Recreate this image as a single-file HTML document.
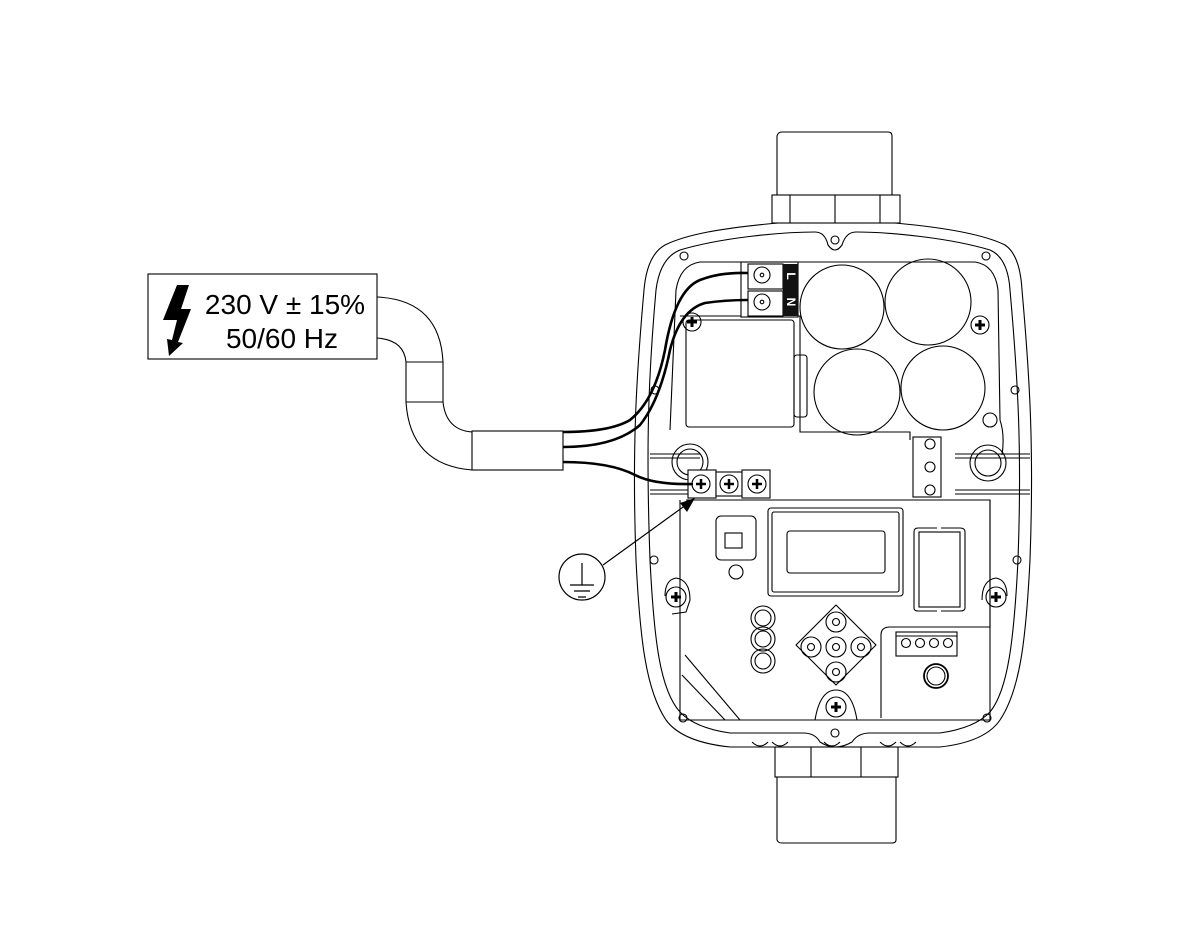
<!DOCTYPE html>
<html><head><meta charset="utf-8"><style>
html,body{margin:0;padding:0;background:#fff;}
svg{display:block;}
</style></head><body>
<svg width="1200" height="950" viewBox="0 0 1200 950" xmlns="http://www.w3.org/2000/svg" font-family="Liberation Sans, sans-serif">
<rect width="1200" height="950" fill="#fff"/>
<g fill="none" stroke="#000" stroke-width="1.1">
<rect x="148" y="274" width="229" height="85" fill="#fff"/>
<path d="M377 297 Q440 300 443 362 L443 402 Q446 430 472 432"/>
<path d="M377 338 Q404 340 406 362 L406 402 Q410 465 472 470"/>
<line x1="406" y1="362" x2="443" y2="362"/>
<line x1="406" y1="402" x2="443" y2="402"/>
<rect x="472" y="431" width="91" height="39"/>

<path d="M777 195 L777 136 Q778 132 782 132 L888 132 Q892 132 892 136 L892 195"/>
<rect x="772" y="195" width="128" height="28"/>
<line x1="790" y1="195" x2="790" y2="223"/><line x1="835" y1="195" x2="835" y2="223"/><line x1="880" y1="195" x2="880" y2="223"/>
<rect x="775" y="747" width="123" height="30"/>
<line x1="811" y1="747" x2="811" y2="777"/><line x1="861" y1="747" x2="861" y2="777"/>
<path d="M777 777 L777 840 Q778 843 782 843 L892 843 Q896 843 896 840 L896 777"/>
<path d="M752 742 q8 8 16 0 M772 742 q8 8 16 0 M824 742 q8 8 16 0 M880 742 q8 8 16 0 M900 742 q8 8 16 0"/>

<path d="M778 223 L895 223 C950 228 985 235 1005 245 Q1020 255 1022 290 C1030 380 1034 450 1030 560 C1026 640 1020 690 1000 720 Q985 742 940 747 L730 747 Q682 742 666 720 C646 690 640 640 636 560 C632 450 636 380 644 290 Q647 255 665 245 C685 235 720 228 778 223 Z"/>
<path d="M680 250 C720 238 780 232 815 232 Q825 232 828 245 Q835 255 842 245 Q846 232 856 232 C890 232 950 238 990 250 Q1008 258 1010 290 C1018 380 1022 450 1018 560 C1014 640 1008 690 990 712 Q975 728 940 733 L870 733 Q858 733 852 742 Q835 752 820 742 Q815 733 803 733 L730 733 Q695 728 680 712 C660 690 654 640 650 560 C646 450 648 380 656 290 Q660 258 680 250 Z"/>
<path d="M700 262 L975 262 Q995 265 998 290 L1000 420 Q1005 435 1002 455 M700 262 Q680 265 676 290 L670 430 M680 500 L680 720 L990 720 L990 500"/>
<g>
<circle cx="684" cy="256" r="4"/><circle cx="835" cy="240" r="4"/><circle cx="986" cy="256" r="4"/>
<circle cx="655" cy="390" r="4"/><circle cx="1015" cy="390" r="4"/>
<circle cx="654" cy="560" r="4"/><circle cx="1017" cy="560" r="4"/>
<circle cx="683" cy="718" r="4"/><circle cx="835" cy="733" r="4"/><circle cx="987" cy="718" r="4"/>
<circle cx="990" cy="420" r="7"/>
</g>
<circle cx="842" cy="307" r="42"/><circle cx="928" cy="302" r="43"/>
<circle cx="857" cy="392" r="43"/><circle cx="943" cy="388" r="42"/>
<path d="M680 316 L800 316 L800 432 L910 432 L910 440"/>
<rect x="686" y="320" width="108" height="107" rx="3"/>
<rect x="794" y="355" width="13" height="62" rx="3"/>
<line x1="650" y1="454" x2="700" y2="454"/><line x1="650" y1="490" x2="688" y2="490"/>
<line x1="650" y1="458" x2="700" y2="458"/><line x1="650" y1="494" x2="688" y2="494"/>
<circle cx="690" cy="462" r="18"/><circle cx="690" cy="462" r="13"/>
<line x1="955" y1="454" x2="1030" y2="454"/><line x1="955" y1="490" x2="1030" y2="490"/>
<line x1="955" y1="458" x2="1030" y2="458"/><line x1="955" y1="494" x2="1030" y2="494"/>
<circle cx="988" cy="463" r="18"/><circle cx="988" cy="463" r="13"/>
<rect x="913" y="437" width="28" height="60"/>
<circle cx="930" cy="444" r="5"/><circle cx="930" cy="467" r="5"/><circle cx="930" cy="490" r="5"/>
<path d="M686 500 L990 500 L990 627"/>
<rect x="716" y="516" width="40" height="44" rx="5"/>
<rect x="725" y="533" width="17" height="15"/>
<circle cx="736" cy="572" r="7"/>
<rect x="768" y="508" width="135" height="88" rx="3"/>
<rect x="772" y="512" width="127" height="80" rx="2"/>
<rect x="787" y="531" width="98" height="42" rx="3"/>
<path d="M937 528 L918 528 Q914 528 914 532 L914 608 Q914 611 918 611 L937 611 M941 528 L960 528 Q965 528 965 532 L965 608 Q965 611 960 611 L941 611"/>
<rect x="919" y="532" width="41" height="75"/>
<circle cx="763" cy="618" r="12"/><circle cx="763" cy="618" r="8"/>
<circle cx="763" cy="639" r="12"/><circle cx="763" cy="639" r="8"/>
<circle cx="763" cy="661" r="12"/><circle cx="763" cy="661" r="8"/>
<path d="M836 605 L876 645 L836 685 L796 645 Z" stroke-linejoin="round"/>
<g><circle cx="836" cy="622" r="10"/><circle cx="836" cy="622" r="3.5"/>
<circle cx="836" cy="647" r="10"/><circle cx="836" cy="647" r="3.5"/>
<circle cx="836" cy="672" r="10"/><circle cx="836" cy="672" r="3.5"/>
<circle cx="811" cy="647" r="10"/><circle cx="811" cy="647" r="3.5"/>
<circle cx="861" cy="647" r="10"/><circle cx="861" cy="647" r="3.5"/></g>
<path d="M881 718 L881 635 Q881 627 890 627 L990 627"/>
<rect x="896" y="632" width="61" height="24"/><line x1="896" y1="636" x2="957" y2="636"/>
<circle cx="906" cy="643" r="4.5"/><circle cx="920" cy="643" r="4.5"/><circle cx="934" cy="643" r="4.5"/><circle cx="948" cy="643" r="4.5"/>
<circle cx="936" cy="676" r="12" stroke-width="1.8"/><circle cx="936" cy="676" r="9"/>
<path d="M685 655 L740 720 M682 675 L725 720"/>
<path d="M815 720 Q820 690 836 690 Q852 690 857 720"/>
<path d="M665 596 Q665 580 676 578 Q690 580 690 600 L686 612 L672 614"/>
<path d="M1007 596 Q1007 580 996 578 Q982 580 982 600"/>
</g>
<g stroke="#000" stroke-width="1.1" fill="none">
<circle cx="692" cy="322" r="9"/><circle cx="980" cy="325" r="9"/>
<circle cx="676" cy="597" r="10"/><circle cx="996" cy="597" r="10"/><circle cx="836" cy="707" r="10"/>
</g>
<g stroke="#000" stroke-width="3">
<path d="M687 322h10M692 317v10M975 325h10M980 320v10M671 597h10M676 592v10M991 597h10M996 592v10M831 707h10M836 702v10"/>
</g>
<g fill="#fff" stroke="#000" stroke-width="1.1">
<rect x="688" y="470" width="28" height="28"/><rect x="716" y="472" width="26" height="24"/><rect x="742" y="470" width="28" height="28"/>
<circle cx="701" cy="484" r="9"/><circle cx="729" cy="484" r="9"/><circle cx="757" cy="484" r="9"/>
</g>
<path d="M696 484h10M701 479v10M724 484h10M729 479v10M752 484h10M757 479v10" stroke="#000" stroke-width="2.5"/>
<g stroke="#000" stroke-width="1.1" fill="#fff">
<rect x="741" y="262" width="57" height="55"/>
<rect x="748" y="264" width="35" height="25"/><rect x="748" y="291" width="35" height="25"/>
<circle cx="762" cy="275" r="8"/><circle cx="762" cy="302" r="8"/>
<circle cx="762" cy="275" r="1.8"/><circle cx="762" cy="302" r="1.8"/>
</g>
<rect x="783" y="264" width="15" height="52" fill="#111"/>
<text x="790" y="276" fill="#fff" font-size="12" font-weight="bold" transform="rotate(90 790 276)" text-anchor="middle" dominant-baseline="middle">L</text>
<text x="790" y="302" fill="#fff" font-size="12" font-weight="bold" transform="rotate(90 790 302)" text-anchor="middle" dominant-baseline="middle">N</text>
<g fill="none" stroke="#000" stroke-width="2.6">
<path d="M563 432 Q610 432 630 420 Q655 400 665 350 Q675 290 700 280 Q720 272 748 273"/>
<path d="M563 447 Q615 447 640 425 Q660 400 670 350 Q680 310 705 303 Q725 300 748 300"/>
<path d="M563 462 Q610 462 635 475 Q655 485 693 484"/>
</g>
<line x1="603" y1="565" x2="690" y2="502" stroke="#000" stroke-width="1.2"/>
<path d="M695 498 L680 503 L687 512 Z" fill="#000"/>
<circle cx="582" cy="577" r="23" fill="#fff" stroke="#000" stroke-width="1.2"/>
<path d="M582 563 V585 M570 585 H594 M574 591 H590 M578 597 H586" stroke="#000" stroke-width="1.2"/>
<path d="M177 285 L189 285 L181 309 L191 309 L178 342 L183 343 L169 356 L167 339 L172 340 L177 320 L163 320 Z" fill="#000"/>
<text x="285" y="314" font-size="28" text-anchor="middle">230 V ± 15%</text>
<text x="282" y="348" font-size="28" text-anchor="middle">50/60 Hz</text>
</svg>
</body></html>
